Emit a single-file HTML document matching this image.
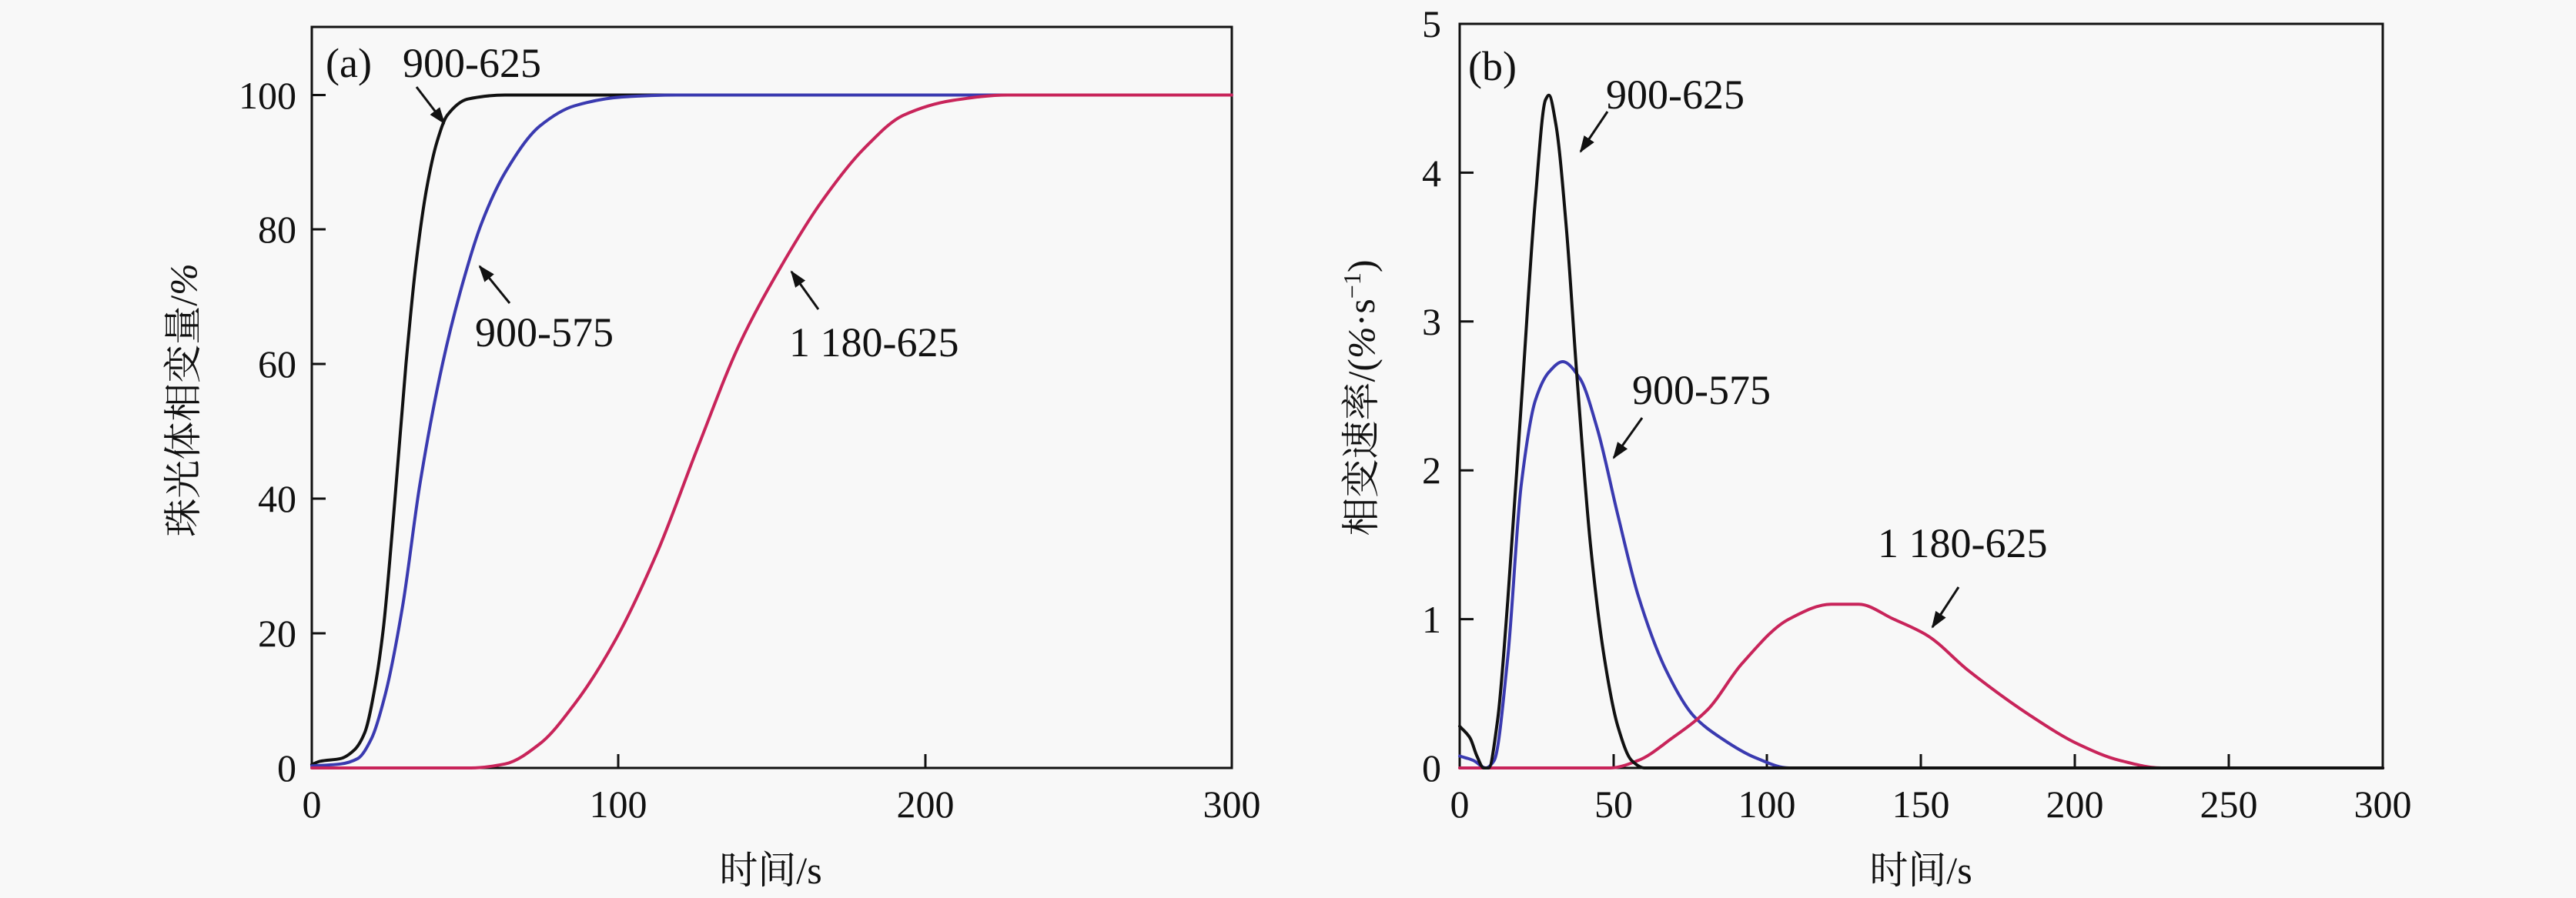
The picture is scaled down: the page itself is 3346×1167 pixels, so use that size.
<!DOCTYPE html>
<html><head><meta charset="utf-8">
<style>
html,body{margin:0;padding:0;background:#f8f8f8;}
svg{display:block;}
svg text{font-family:"Liberation Serif","Times New Roman","Noto Serif CJK SC",serif;fill:#111;}
.t{font-size:50px;}
.l{font-size:54px;}
svg text.c{font-family:"Liberation Serif","Noto Serif CJK SC","Noto Sans CJK SC",serif;font-size:50px;}
</style></head>
<body>
<svg id="s" width="3346" height="1167" viewBox="0 0 3346 1167" xmlns="http://www.w3.org/2000/svg" font-family="Liberation Serif, serif">
<defs>
<marker id="a2" markerWidth="22" markerHeight="16" refX="20" refY="8" orient="auto" markerUnits="userSpaceOnUse"><path d="M0,0 L22,8 L0,16 z" fill="#111"/></marker></defs>
<rect width="3346" height="1167" fill="#f8f8f8"/>
<rect x="405" y="35" width="1195" height="963" fill="none" stroke="#111" stroke-width="3"/>
<g stroke="#111" stroke-width="3">
<line x1="405" y1="823" x2="423" y2="823"/><line x1="405" y1="648" x2="423" y2="648"/><line x1="405" y1="473" x2="423" y2="473"/><line x1="405" y1="298" x2="423" y2="298"/><line x1="405" y1="123.5" x2="423" y2="123.5"/>
<line x1="803" y1="998" x2="803" y2="980"/><line x1="1202" y1="998" x2="1202" y2="980"/>
</g>
<g class="t" text-anchor="end">
<text x="385" y="1015">0</text><text x="385" y="840">20</text><text x="385" y="665">40</text><text x="385" y="490">60</text><text x="385" y="315">80</text><text x="385" y="141">100</text>
</g>
<g class="t" text-anchor="middle">
<text x="405" y="1062">0</text><text x="803" y="1062">100</text><text x="1202" y="1062">200</text><text x="1600" y="1062">300</text>
</g>
<text class="c" x="1001" y="1148" text-anchor="middle">时间/s</text>
<text class="c" transform="translate(255,520) rotate(-90)" text-anchor="middle">珠光体相变量/<tspan font-style="italic">%</tspan></text>
<text class="l" x="423" y="100">(a)</text>
<text class="l" x="523" y="100">900-625</text>
<text class="l" x="617" y="450">900-575</text>
<text class="l" x="1025" y="463">1 180-625</text>
<g stroke="#111" stroke-width="3" marker-end="url(#a2)">
<line x1="541" y1="113" x2="577" y2="160"/>
<line x1="662" y1="394" x2="623" y2="346"/>
<line x1="1063" y1="402" x2="1028" y2="353"/>
</g>
<rect x="1896" y="31" width="1199" height="967" fill="none" stroke="#111" stroke-width="3"/>
<g stroke="#111" stroke-width="3">
<line x1="1896" y1="804.6" x2="1914" y2="804.6"/><line x1="1896" y1="611.2" x2="1914" y2="611.2"/><line x1="1896" y1="417.8" x2="1914" y2="417.8"/><line x1="1896" y1="224.4" x2="1914" y2="224.4"/>
<line x1="2096" y1="998" x2="2096" y2="980"/><line x1="2295" y1="998" x2="2295" y2="980"/><line x1="2495" y1="998" x2="2495" y2="980"/><line x1="2695" y1="998" x2="2695" y2="980"/><line x1="2895" y1="998" x2="2895" y2="980"/>
</g>
<g class="t" text-anchor="end">
<text x="1872" y="1015">0</text><text x="1872" y="822">1</text><text x="1872" y="628">2</text><text x="1872" y="435">3</text><text x="1872" y="242">4</text><text x="1872" y="48">5</text>
</g>
<g class="t" text-anchor="middle">
<text x="1896" y="1062">0</text><text x="2096" y="1062">50</text><text x="2295" y="1062">100</text><text x="2495" y="1062">150</text><text x="2695" y="1062">200</text><text x="2895" y="1062">250</text><text x="3095" y="1062">300</text>
</g>
<text class="c" x="2495" y="1148" text-anchor="middle">时间/s</text>
<text class="c" transform="translate(1785,517) rotate(-90)" text-anchor="middle">相变速率/(<tspan font-style="italic">%</tspan>·s<tspan dy="-18" font-size="32">−1</tspan><tspan dy="18">)</tspan></text>
<text class="l" x="1907" y="104">(b)</text>
<text class="l" x="2086" y="141">900-625</text>
<text class="l" x="2120" y="525">900-575</text>
<text class="l" x="2439" y="724">1 180-625</text>
<g stroke="#111" stroke-width="3" marker-end="url(#a2)">
<line x1="2088" y1="145" x2="2053" y2="197"/>
<line x1="2133" y1="543" x2="2096" y2="595"/>
<line x1="2544" y1="763" x2="2510" y2="815"/>
</g>
<g id="curves" fill="none" stroke-width="4" stroke-linejoin="round" stroke-linecap="round"></g>
</svg>
<script>
function mono(p){var n=p.length,dx=[],m=[],t=[];
for(var i=0;i<n-1;i++){dx[i]=p[i+1][0]-p[i][0];m[i]=(p[i+1][1]-p[i][1])/dx[i];}
t[0]=m[0];t[n-1]=m[n-2];
for(i=1;i<n-1;i++){if(m[i-1]*m[i]<=0)t[i]=0;else{var w1=2*dx[i]+dx[i-1],w2=dx[i]+2*dx[i-1];t[i]=(w1+w2)/(w1/m[i-1]+w2/m[i]);}}
var d="M"+p[0][0].toFixed(1)+","+p[0][1].toFixed(1);
for(i=0;i<n-1;i++){var h=dx[i]/3;
d+=" C"+(p[i][0]+h).toFixed(1)+","+(p[i][1]+t[i]*h).toFixed(1)+" "+(p[i+1][0]-h).toFixed(1)+","+(p[i+1][1]-t[i+1]*h).toFixed(1)+" "+p[i+1][0].toFixed(1)+","+p[i+1][1].toFixed(1);}
return d;}
function L(p){return p.map(function(q){return [405+q[0]*3.983,998-q[1]*8.745];});}
function R(p){return p.map(function(q){return [1896+q[0]*3.997,998-q[1]*193.4];});}
var S=[
[L([[0,0.5],[2.7,1],[9.4,1.4],[13.9,2.7],[17.3,5.3],[20.6,12],[23.3,20.6],[26.7,37.6],[30.7,60],[34,75],[37.4,86],[40.8,93],[44.2,97],[50.9,99.4],[63,100],[300,100]]),"#111"],
[L([[0,0.3],[9.4,0.6],[15,1.4],[19.5,4.4],[24,11],[29.6,24],[35.2,42],[42.6,60],[49.8,73],[55.4,81],[63.2,88.6],[74.4,95.4],[85.7,98.4],[101,99.7],[119,100],[300,100]]),"#3a3ab0"],
[L([[0,0],[52,0],[63,0.6],[74.4,3.6],[85.7,9.5],[99,19],[112.6,32],[126,47.8],[139.5,63],[153,74.5],[166,84],[180,92],[193,97],[209,99.2],[227,100],[300,100]]),"#c8245a"],
[R([[0,0.08],[4.5,0.05],[8.5,0],[11.2,0.05],[15.6,0.74],[20,1.9],[24.6,2.47],[29,2.66],[33.5,2.73],[39,2.62],[44.7,2.28],[51.4,1.7],[58,1.16],[67,0.66],[76,0.35],[85,0.2],[96,0.07],[107,0],[300,0]]),"#3a3ab0"],
[R([[0,0],[49,0],[58,0.05],[69,0.2],[80.5,0.39],[91.7,0.7],[107,1.0],[120.7,1.1],[129.7,1.1],[141,1.0],[152,0.89],[165,0.66],[185.6,0.35],[201,0.16],[214.6,0.05],[228,0],[300,0]]),"#c8245a"],
[R([[0,0.28],[3.4,0.2],[5.6,0.08],[7.8,0],[9.4,0],[12.3,0.32],[15.6,1.12],[20.1,2.47],[24.6,3.82],[27.9,4.49],[29,4.52],[31.3,4.32],[34.7,3.62],[38,2.66],[42.5,1.5],[47,0.74],[51.4,0.28],[55.9,0.05],[60,0],[300,0]]),"#111"]
];
var g=document.getElementById("curves"),h="";
S.forEach(function(s){h+='<path d="'+mono(s[0])+'" stroke="'+s[1]+'"/>';});
g.innerHTML=h;
</script>
</body></html>
